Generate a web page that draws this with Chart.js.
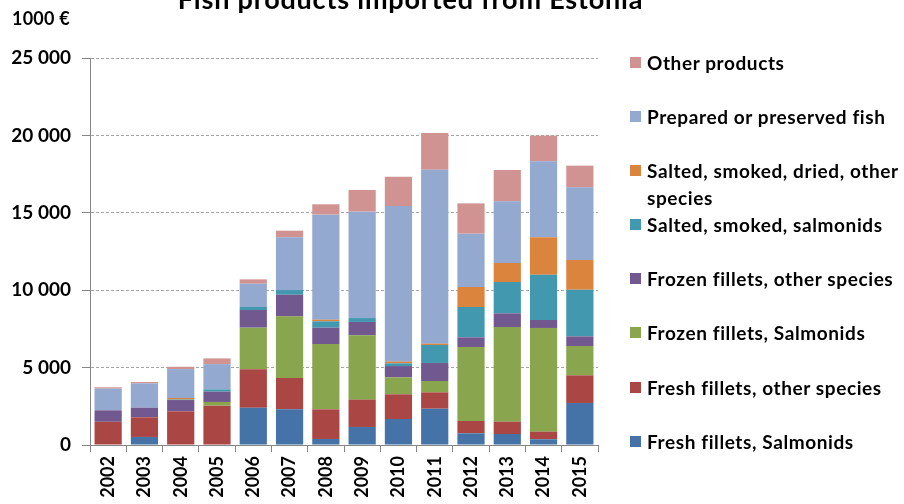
<!DOCTYPE html>
<html>
<head>
<meta charset="utf-8">
<script src="https://cdn.jsdelivr.net/npm/chart.js@4/dist/chart.umd.min.js"></script>
<style>
  html, body { margin: 0; padding: 0; background: #fff; }
  #wrap { position: relative; width: 904px; height: 504px; overflow: hidden; font-family: Lato, "Open Sans", sans-serif; font-weight: bold; color: #000; }
  canvas { position: absolute; left: 0; top: 0; }
  #title { position: absolute; left: 0; width: 821px; top: -15px; text-align: center; font-size: 27px; line-height: 28px; letter-spacing: 0.8px; white-space: nowrap; }
  #unit { position: absolute; left: 12px; top: 7px; font-size: 18px; line-height: 22px; letter-spacing: 0.2px; }
  .leg { position: absolute; left: 630px; width: 274px; font-size: 19px; line-height: 27px; letter-spacing: 0.6px; white-space: nowrap; }
  .leg .sw { position: absolute; left: 0; top: 8px; width: 11px; height: 11px; }
  .leg .tx { margin-left: 17px; display: block; }
</style>
</head>
<body>
<div id="wrap">
  <canvas id="c" width="904" height="504"></canvas>
  <div id="title">Fish products imported from Estonia</div>
  <div id="unit">1000 €</div>
  <div id="legend"></div>
</div>
<script>
const years = ['2002','2003','2004','2005','2006','2007','2008','2009','2010','2011','2012','2013','2014','2015'];
const seriesNames = [
  'Fresh fillets, Salmonids',
  'Fresh fillets, other species',
  'Frozen fillets, Salmonids',
  'Frozen fillets, other species',
  'Salted, smoked, salmonids',
  'Salted, smoked, dried, other species',
  'Prepared or preserved fish',
  'Other products'
];
const freshSalmonids  = [0, 520, 0, 0, 2410, 2305, 390, 1165, 1680, 2345, 755, 710, 370, 2715];
const freshOther      = [1500, 1270, 2175, 2540, 2480, 2025, 1915, 1765, 1595, 1055, 795, 795, 490, 1785];
const frozenSalmonids = [0, 0, 0, 240, 2690, 3980, 4220, 4155, 1095, 735, 4780, 6115, 6700, 1895];
const frozenOther     = [740, 620, 730, 665, 1140, 1400, 1055, 865, 730, 1165, 625, 885, 515, 625];
const saltedSalmonids = [0, 0, 30, 150, 195, 300, 410, 250, 175, 1160, 1960, 2025, 2925, 3010];
const saltedOther     = [0, 0, 100, 0, 0, 0, 105, 0, 110, 85, 1290, 1230, 2415, 1920];
const prepared        = [1400, 1575, 1870, 1630, 1505, 3405, 6785, 6875, 10055, 11240, 3445, 3980, 4910, 4695];
const otherProducts   = [90, 85, 150, 370, 280, 430, 670, 1400, 1890, 2370, 1960, 2025, 1660, 1400];
const yTicks = [0, 5000, 10000, 15000, 20000, 25000];

const colors = ['#4572A7','#AA4643','#89A54E','#71588F','#4198AF','#DB843D','#93A9CF','#D19392'];
const seriesData = [freshSalmonids, freshOther, frozenSalmonids, frozenOther, saltedSalmonids, saltedOther, prepared, otherProducts];

const datasets = seriesNames.map((n, i) => ({
  label: n,
  data: seriesData[i],
  backgroundColor: colors[i],
  borderWidth: 0,
  barPercentage: 0.75,
  categoryPercentage: 1.0
}));

function fmt(v) {
  return String(v).replace(/\B(?=(\d{3})+(?!\d))/g, ' ');
}

new Chart(document.getElementById('c'), {
  type: 'bar',
  data: { labels: years, datasets },
  options: {
    responsive: false,
    devicePixelRatio: 1,
    animation: false,
    layout: { padding: { top: 58, right: 306, left: 0, bottom: 0 } },
    plugins: { legend: { display: false }, title: { display: false }, tooltip: { enabled: false } },
    scales: {
      x: {
        stacked: true,
        offset: true,
        grid: { offset: true, drawOnChartArea: false, drawTicks: true, tickLength: 7, color: '#868686' },
        border: { display: true, color: '#868686', width: 1 },
        ticks: {
          minRotation: 90, maxRotation: 90, padding: 4,
          color: '#000',
          font: { family: 'Lato', size: 18, weight: 'bold' }
        },
        afterFit: (s) => { s.height = 59; }
      },
      y: {
        stacked: true,
        min: 0, max: 25000,
        afterBuildTicks: (s) => { s.ticks = yTicks.map(v => ({ value: v })); },
        grid: { color: '#a6a6a6', tickColor: '#868686', tickLength: 8, tickBorderDash: [], drawTicks: true },
        border: { display: true, color: '#868686', width: 1, dash: [3, 2] },
        ticks: {
          padding: 11,
          color: '#000',
          font: { family: 'Lato', size: 19, weight: 'bold' },
          callback: (v) => fmt(v)
        },
        afterFit: (s) => { s.width = 90; }
      }
    }
  }
});

// HTML legend, reverse order like the reference
const legendTops = [49, 103, 157, 211, 265, 319, 374, 428];
const leg = document.getElementById('legend');
for (let k = 0; k < seriesNames.length; k++) {
  const i = seriesNames.length - 1 - k;
  const d = document.createElement('div');
  d.className = 'leg';
  d.style.top = legendTops[k] + 'px';
  let name = seriesNames[i];
  if (name === 'Salted, smoked, dried, other species') name = 'Salted, smoked, dried, other<br>species';
  d.innerHTML = '<span class="sw" style="background:' + colors[i] + '"></span><span class="tx">' + name + '</span>';
  leg.appendChild(d);
}
</script>
</body>
</html>
